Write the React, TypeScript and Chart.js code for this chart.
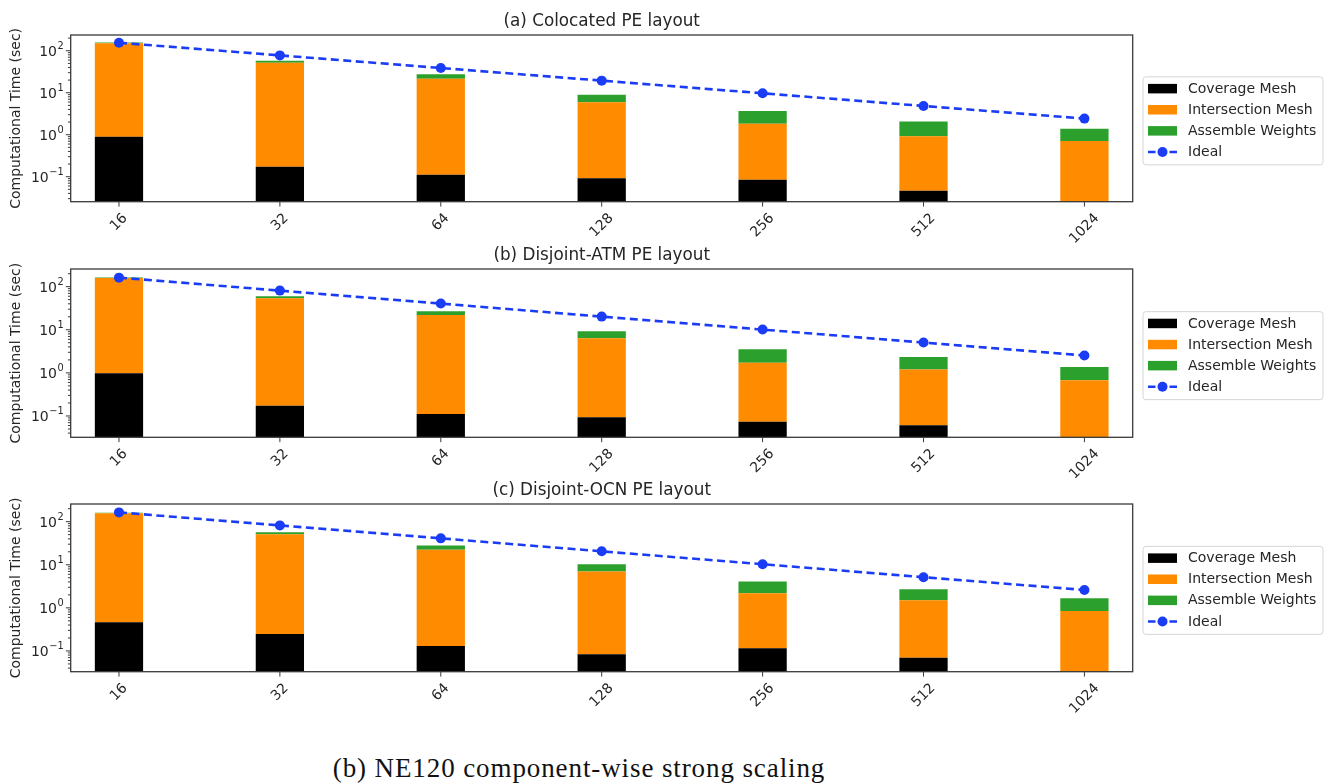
import React, { useEffect, useRef } from "react";
import { Chart, registerables } from "chart.js";

Chart.register(...registerables);

// ---------------- data ----------------
const coreCounts = ["16", "32", "64", "128", "256", "512", "1024"];
const panelTitles = [
  "(a) Colocated PE layout",
  "(b) Disjoint-ATM PE layout",
  "(c) Disjoint-OCN PE layout",
];
const legendLabels = ["Coverage Mesh", "Intersection Mesh", "Assemble Weights", "Ideal"];
const yAxisTitle = "Computational Time (sec)";
const caption = "(b) NE120 component-wise strong scaling";
const yTickExponents = [-1, 0, 1, 2];

const coverageA = [0.9, 0.173, 0.112, 0.092, 0.085, 0.046, 0.015];
const intersectionA = [149, 51.6, 21.4, 5.81, 1.75, 0.87, 0.69];
const assembleA = [7, 6.0, 5.9, 3.1, 1.84, 1.16, 0.68];
const idealA = [155, 77.5, 38.8, 19.4, 9.7, 4.84, 2.42];

const coverageB = [0.98, 0.173, 0.111, 0.093, 0.073, 0.061, 0.015];
const intersectionB = [157, 53.6, 21.9, 6.26, 1.65, 1.13, 0.655];
const assembleB = [6, 6.1, 4.9, 2.85, 1.81, 1.15, 0.7];
const idealB = [162, 81, 40.5, 20.2, 10.1, 5.06, 2.53];

const coverageC = [0.466, 0.249, 0.131, 0.084, 0.116, 0.07, 0.015];
const intersectionC = [156.5, 51.0, 22.1, 6.87, 2.07, 1.44, 0.835];
const assembleC = [5, 5.7, 5.7, 3.35, 1.88, 1.21, 0.83];
const idealC = [164, 82, 41, 20.5, 10.3, 5.15, 2.6];

// ---------------- styles / layout ----------------
const COLORS = {
  coverage: "#000000",
  intersection: "#ff8c00",
  assemble: "#2ca02c",
  ideal: "#1a3cf5",
  frame: "#3a3a3a",
  text: "#262626",
};
const FONT = "'DejaVu Sans', 'Noto Sans', sans-serif";
const CANVAS_W = 1331;
const CANVAS_H = 265;
const AREA_LEFT = 70.7;
const AREA_RIGHT = 1132.7;

const panels = [
  { canvasTop: 0, areaTop: 35, areaBottom: 201.7, yMin: 0.0254, yMax: 237, coverage: coverageA, intersection: intersectionA, assemble: assembleA, ideal: idealA },
  { canvasTop: 240, areaTop: 29, areaBottom: 197.3, yMin: 0.032, yMax: 257, coverage: coverageB, intersection: intersectionB, assemble: assembleB, ideal: idealB },
  { canvasTop: 475, areaTop: 29, areaBottom: 196.7, yMin: 0.033, yMax: 257, coverage: coverageC, intersection: intersectionC, assemble: assembleC, ideal: idealC },
];

function makeDecorPlugin(title: string) {
  return {
    id: "decor",
    afterDraw(chart: any) {
      const ctx = chart.ctx as CanvasRenderingContext2D;
      const ca = chart.chartArea;
      const xs = chart.scales.x;
      const ys = chart.scales.y;
      ctx.save();

      // frame
      ctx.strokeStyle = COLORS.frame;
      ctx.lineWidth = 1.3;
      ctx.strokeRect(ca.left, ca.top, ca.right - ca.left, ca.bottom - ca.top);

      // y ticks (major + minor)
      ctx.lineWidth = 1;
      const lo = Math.floor(Math.log10(ys.min));
      const hi = Math.ceil(Math.log10(ys.max));
      for (let d = lo; d <= hi; d++) {
        for (let k = 1; k <= 9; k++) {
          const v = k * Math.pow(10, d);
          if (v < ys.min || v > ys.max) continue;
          const py = ys.getPixelForValue(v);
          const len = k === 1 ? 4.9 : 2.8;
          ctx.beginPath();
          ctx.moveTo(ca.left, py);
          ctx.lineTo(ca.left - len, py);
          ctx.stroke();
        }
      }

      // y tick labels
      ctx.fillStyle = COLORS.text;
      ctx.textBaseline = "alphabetic";
      ctx.textAlign = "left";
      for (const p of yTickExponents) {
        const py = ys.getPixelForValue(Math.pow(10, p));
        const expStr = p < 0 ? "\u2212" + String(-p) : String(p);
        ctx.font = `9.8px ${FONT}`;
        const wExp = ctx.measureText(expStr).width;
        ctx.font = `14px ${FONT}`;
        const wBase = ctx.measureText("10").width;
        const right = ca.left - 7;
        ctx.fillText("10", right - wExp - wBase - 0.5, py + 5.1);
        ctx.font = `9.8px ${FONT}`;
        ctx.fillText(expStr, right - wExp, py - 1.5);
      }

      // x ticks and rotated labels
      ctx.font = `14px ${FONT}`;
      coreCounts.forEach((lab, i) => {
        const px = xs.getPixelForValue(i);
        ctx.strokeStyle = COLORS.frame;
        ctx.beginPath();
        ctx.moveTo(px, ca.bottom);
        ctx.lineTo(px, ca.bottom + 4.9);
        ctx.stroke();
        const w = ctx.measureText(lab).width;
        const d = (w + 14) / (2 * Math.SQRT2);
        ctx.save();
        ctx.translate(px, ca.bottom + 9.5 + d);
        ctx.rotate(-Math.PI / 4);
        ctx.textAlign = "center";
        ctx.textBaseline = "middle";
        ctx.fillText(lab, 0, 0);
        ctx.restore();
      });

      // y axis title
      ctx.save();
      ctx.translate(16, (ca.top + ca.bottom) / 2);
      ctx.rotate(-Math.PI / 2);
      ctx.textAlign = "center";
      ctx.textBaseline = "middle";
      ctx.font = `14px ${FONT}`;
      ctx.fillText(yAxisTitle, 0, 0);
      ctx.restore();

      // panel title
      ctx.font = `16.8px ${FONT}`;
      ctx.textAlign = "center";
      ctx.textBaseline = "alphabetic";
      ctx.fillText(title, (ca.left + ca.right) / 2, ca.top - 9);

      // legend
      const lw = 180;
      const lh = 88;
      const lx = ca.right + 10.3;
      const ly = (ca.top + ca.bottom) / 2 + 2.5 - lh / 2;
      ctx.beginPath();
      ctx.roundRect(lx, ly, lw, lh, 3);
      ctx.fillStyle = "rgba(255,255,255,0.9)";
      ctx.fill();
      ctx.strokeStyle = "#d6d6d6";
      ctx.lineWidth = 1;
      ctx.stroke();
      const swatchColors = [COLORS.coverage, COLORS.intersection, COLORS.assemble];
      legendLabels.forEach((lab, i) => {
        const cy = ly + 11.8 + i * 21.1;
        if (i < 3) {
          ctx.fillStyle = swatchColors[i];
          ctx.fillRect(lx + 5, cy - 4.75, 29, 9.5);
        } else {
          ctx.strokeStyle = COLORS.ideal;
          ctx.lineWidth = 2.6;
          ctx.beginPath();
          ctx.moveTo(lx + 5, cy);
          ctx.lineTo(lx + 12.5, cy);
          ctx.moveTo(lx + 26.5, cy);
          ctx.lineTo(lx + 34, cy);
          ctx.stroke();
          ctx.fillStyle = COLORS.ideal;
          ctx.beginPath();
          ctx.arc(lx + 19.5, cy, 5, 0, Math.PI * 2);
          ctx.fill();
        }
        ctx.fillStyle = COLORS.text;
        ctx.font = `14px ${FONT}`;
        ctx.textAlign = "left";
        ctx.textBaseline = "middle";
        ctx.fillText(lab, lx + 45, cy + 0.5);
      });

      ctx.restore();
    },
  };
}

function buildConfig(idx: number): any {
  const p = panels[idx];
  const toXY = (arr: number[]) => arr.map((v, i) => ({ x: i, y: v }));
  const barCommon = {
    type: "bar",
    borderWidth: 0,
    barPercentage: 0.3,
    categoryPercentage: 1,
    clip: 0,
    order: 1,
  };
  return {
    type: "bar",
    data: {
      datasets: [
        {
          type: "line",
          label: legendLabels[3],
          data: toXY(p.ideal),
          borderColor: COLORS.ideal,
          backgroundColor: COLORS.ideal,
          borderWidth: 2.6,
          borderDash: [8, 4.5],
          pointRadius: 5,
          pointBorderWidth: 0,
          pointBackgroundColor: COLORS.ideal,
          tension: 0,
          fill: false,
          order: 0,
        },
        { ...barCommon, label: legendLabels[0], data: toXY(p.coverage), backgroundColor: COLORS.coverage },
        { ...barCommon, label: legendLabels[1], data: toXY(p.intersection), backgroundColor: COLORS.intersection },
        { ...barCommon, label: legendLabels[2], data: toXY(p.assemble), backgroundColor: COLORS.assemble },
      ],
    },
    options: {
      animation: false,
      responsive: false,
      devicePixelRatio: 1,
      events: [],
      layout: { padding: { top: p.areaTop, right: CANVAS_W - AREA_RIGHT, left: 0, bottom: 0 } },
      plugins: {
        legend: { display: false },
        title: { display: false },
        tooltip: { enabled: false },
      },
      scales: {
        x: {
          type: "linear",
          min: -0.3,
          max: 6.3,
          offset: false,
          stacked: true,
          afterBuildTicks: (s: any) => {
            s.ticks = coreCounts.map((_, i) => ({ value: i }));
          },
          ticks: { display: false },
          grid: { display: false, offset: false },
          border: { display: false },
          afterFit: (s: any) => {
            s.height = CANVAS_H - p.areaBottom;
          },
        },
        y: {
          type: "logarithmic",
          min: p.yMin,
          max: p.yMax,
          stacked: true,
          ticks: { display: false },
          grid: { display: false },
          border: { display: false },
          afterFit: (s: any) => {
            s.width = AREA_LEFT;
          },
        },
      },
    },
    plugins: [makeDecorPlugin(panelTitles[idx])],
  };
}

export default function App() {
  const r0 = useRef<HTMLCanvasElement | null>(null);
  const r1 = useRef<HTMLCanvasElement | null>(null);
  const r2 = useRef<HTMLCanvasElement | null>(null);
  const refs = [r0, r1, r2];

  useEffect(() => {
    const charts: Chart[] = [];
    refs.forEach((r, i) => {
      if (r.current) charts.push(new Chart(r.current, buildConfig(i)));
    });
    return () => charts.forEach((c) => c.destroy());
  }, []);

  return (
    <div
      style={{
        position: "fixed",
        left: 0,
        top: 0,
        width: CANVAS_W,
        height: 784,
        background: "#ffffff",
        overflow: "hidden",
      }}
    >
      {panels.map((p, i) => (
        <canvas
          key={i}
          ref={refs[i]}
          width={CANVAS_W}
          height={CANVAS_H}
          style={{ position: "absolute", left: 0, top: p.canvasTop, width: CANVAS_W, height: CANVAS_H }}
        />
      ))}
      <div
        style={{
          position: "absolute",
          left: 0,
          width: 1158,
          top: 755,
          textAlign: "center",
          fontFamily: "'Liberation Serif', 'DejaVu Serif', serif",
          fontSize: 27,
          lineHeight: "27px",
          letterSpacing: "0.9px",
          color: "#111",
          whiteSpace: "nowrap",
        }}
      >
        {caption}
      </div>
    </div>
  );
}
